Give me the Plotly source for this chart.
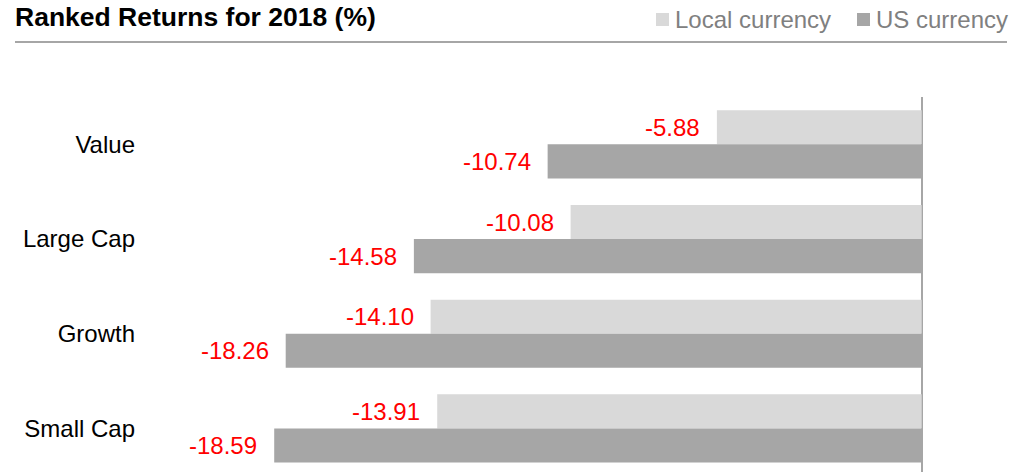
import plotly.graph_objects as go

categories = ["Value", "Large Cap", "Growth", "Small Cap"]
local_currency = [-5.88, -10.08, -14.10, -13.91]
us_currency = [-10.74, -14.58, -18.26, -18.59]
series_names = ["Local currency", "US currency"]
colors = ["#d9d9d9", "#a6a6a6"]

FONT = "Arial, Liberation Sans, sans-serif"

W, H = 1023, 472
L, R, T, B = 150, W - 1007, 97, 0
PW, PH = W - L - R, H - T - B


def px(xp):
    return (xp - L) / PW


def py(yp):
    return (H - B - yp) / PH


fig = go.Figure()
for name, vals, col in zip(series_names, [local_currency, us_currency], colors):
    fig.add_trace(go.Bar(
        y=categories, x=vals, name=name, orientation="h",
        marker=dict(color=col, line=dict(width=0)),
        hoverinfo="skip", showlegend=False,
    ))

# data labels
for vals, shift in [(local_currency, 17), (us_currency, -17)]:
    for c, v in zip(categories, vals):
        fig.add_annotation(
            x=v, y=c, text=f"{v:.2f}", showarrow=False,
            xanchor="right", yanchor="middle", xshift=-15, yshift=shift,
            font=dict(family=FONT, size=24, color="#ff0000"),
        )

# top rule under title
fig.add_shape(type="line", xref="paper", yref="paper",
              x0=px(15), x1=px(1007), y0=py(42), y1=py(42),
              line=dict(color="#a6a6a6", width=2))

# legend (square swatch + text)
for name, col, sx in zip(series_names, colors, [656, 857]):
    fig.add_shape(type="rect", xref="paper", yref="paper",
                  x0=px(sx), x1=px(sx + 13), y0=py(26), y1=py(13),
                  fillcolor=col, line=dict(width=0))
    fig.add_annotation(xref="paper", yref="paper", x=px(sx + 17), y=py(19.5),
                       text=name, showarrow=False, xanchor="left", yanchor="middle",
                       font=dict(family=FONT, size=24, color="#808080"))

fig.update_layout(
    width=W, height=H,
    margin=dict(l=L, r=R, t=T, b=B),
    paper_bgcolor="white", plot_bgcolor="white",
    barmode="group", bargap=0.28, bargroupgap=0,
    font=dict(family=FONT, size=24, color="black"),
    title=dict(text="<b>Ranked Returns for 2018 (%)</b>", x=15 / W, xanchor="left",
               xref="container", y=1 - 16.5 / H, yanchor="middle", yref="container",
               font=dict(family=FONT, size=26.5, color="black")),
    showlegend=False,
    hovermode=False,
)
fig.update_xaxes(range=[-(921.7 - 150) / 34.83, (1007 - 921.7) / 34.83],
                 showgrid=False, showticklabels=False,
                 zeroline=True, zerolinecolor="#a6a6a6", zerolinewidth=2,
                 showline=False, ticks="")
fig.update_yaxes(range=[3.46, -0.5], showgrid=False, showline=False, ticks="",
                 ticklabelstandoff=14, tickfont=dict(family=FONT, size=24, color="black"))

fig.write_html("out.html", config={"displayModeBar": False},
               post_script="document.body.style.margin='0';")
